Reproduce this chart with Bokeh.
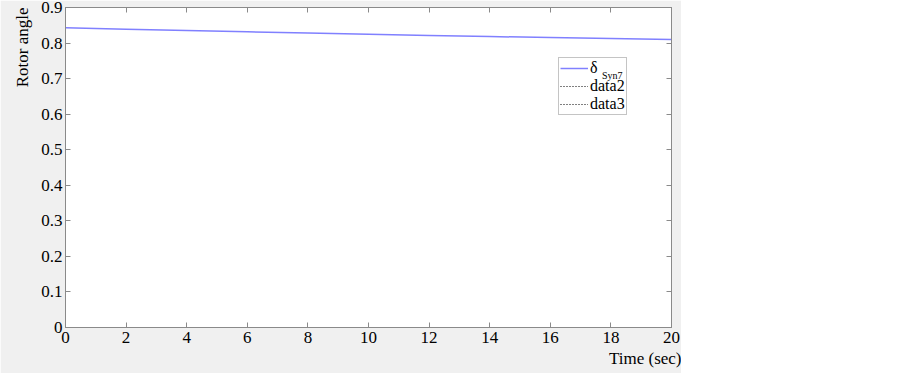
import math
from bokeh.plotting import figure
from bokeh.models import Range1d, LinearAxis, FixedTicker, Legend, LegendItem, Title
from bokeh.embed import file_html
from bokeh.resources import INLINE

# ---- data ----
time_s = [0, 2, 4, 6, 8, 10, 12, 14, 16, 18, 20]
rotor_angle = [0.8427, 0.8390, 0.8353, 0.8317, 0.8283, 0.8250, 0.8216, 0.8183, 0.8155, 0.8127, 0.8098]
data2 = [float("nan")]  # not visible in the plotted range
data3 = [float("nan")]
x_ticks = [0, 2, 4, 6, 8, 10, 12, 14, 16, 18, 20]
y_ticks = [0, 0.1, 0.2, 0.3, 0.4, 0.5, 0.6, 0.7, 0.8, 0.9]
y_tick_labels = ["0", "0.1", "0.2", "0.3", "0.4", "0.5", "0.6", "0.7", "0.8", "0.9"]
legend_labels = ["δ", "data2", "data3"]
legend_sub = "Syn7"
x_label = "Time (sec)"
y_label = "Rotor angle"

FONT = "Liberation Serif"
GRAY = "#8a8a8a"
FS = "17px"

p = figure(width=681, height=373, output_backend="svg", toolbar_location=None,
           x_range=Range1d(0, 20), y_range=Range1d(0, 0.9),
           min_border_left=65, min_border_right=10, min_border_top=7, min_border_bottom=46,
           background_fill_color="white", border_fill_color="#f0f0f0",
           outline_line_color=GRAY)
p.xgrid.visible = False
p.ygrid.visible = False

bottom_axis = p.below[0]
left_axis = p.left[0]
top_axis = LinearAxis()
right_axis = LinearAxis()
p.add_layout(top_axis, "above")
p.add_layout(right_axis, "right")

def style(ax, ticks, show):
    ax.ticker = FixedTicker(ticks=ticks)
    ax.axis_line_color = GRAY
    ax.major_tick_line_color = GRAY
    ax.major_tick_in = 5
    ax.major_tick_out = 0
    ax.minor_tick_line_color = None
    ax.major_label_text_font = FONT
    ax.major_label_text_color = "black"
    if show:
        ax.major_label_text_font_size = FS
    else:
        ax.major_label_text_font_size = "0px"
        ax.major_label_standoff = 0

style(bottom_axis, x_ticks, True)
style(left_axis, y_ticks, True)
style(top_axis, x_ticks, False)
style(right_axis, y_ticks, False)
bottom_axis.major_label_standoff = 4
left_axis.major_label_standoff = 3
left_axis.major_label_overrides = {t: s for t, s in zip(y_ticks, y_tick_labels)}

r_main = p.line(time_s, rotor_angle, line_color="#8080ff", line_width=1.5)
r2 = p.line(time_s[:1], data2, line_color="black", line_dash="1 2", line_width=1)
r3 = p.line(time_s[:1], data3, line_color="black", line_dash="1 2", line_width=1)

legend = Legend(items=[LegendItem(label=legend_labels[0], renderers=[r_main]),
                       LegendItem(label=legend_labels[1], renderers=[r2]),
                       LegendItem(label=legend_labels[2], renderers=[r3])],
                location=(493, 212), border_line_color=GRAY, border_line_width=1,
                background_fill_color="white", background_fill_alpha=1.0,
                padding=1, spacing=0, margin=0, glyph_width=28, glyph_height=14,
                label_height=14, label_standoff=2, label_text_font=FONT,
                label_text_font_size="16px", label_text_color="black")
p.add_layout(legend)

# subscript of the first legend entry (δ_Syn7), drawn as a text-only legend row
sub_legend = Legend(items=[LegendItem(label=legend_sub, renderers=[r_main])],
                    location=(537, 246), border_line_color=None,
                    background_fill_alpha=0.0, padding=0, spacing=0, margin=0,
                    glyph_width=0, glyph_height=8, label_height=8, label_standoff=0,
                    label_text_font=FONT, label_text_font_size="10px",
                    label_text_color="black")
p.add_layout(sub_legend)

p.add_layout(Title(text=x_label, align="right", offset=-10, standoff=3,
                   text_font=FONT, text_font_size=FS, text_font_style="normal",
                   text_color="black"), "below")
p.add_layout(Title(text=y_label, align="right", offset=0, standoff=13,
                   text_font=FONT, text_font_size=FS, text_font_style="normal",
                   text_color="black"), "left")

open("out.html", "w").write(file_html(p, INLINE))
